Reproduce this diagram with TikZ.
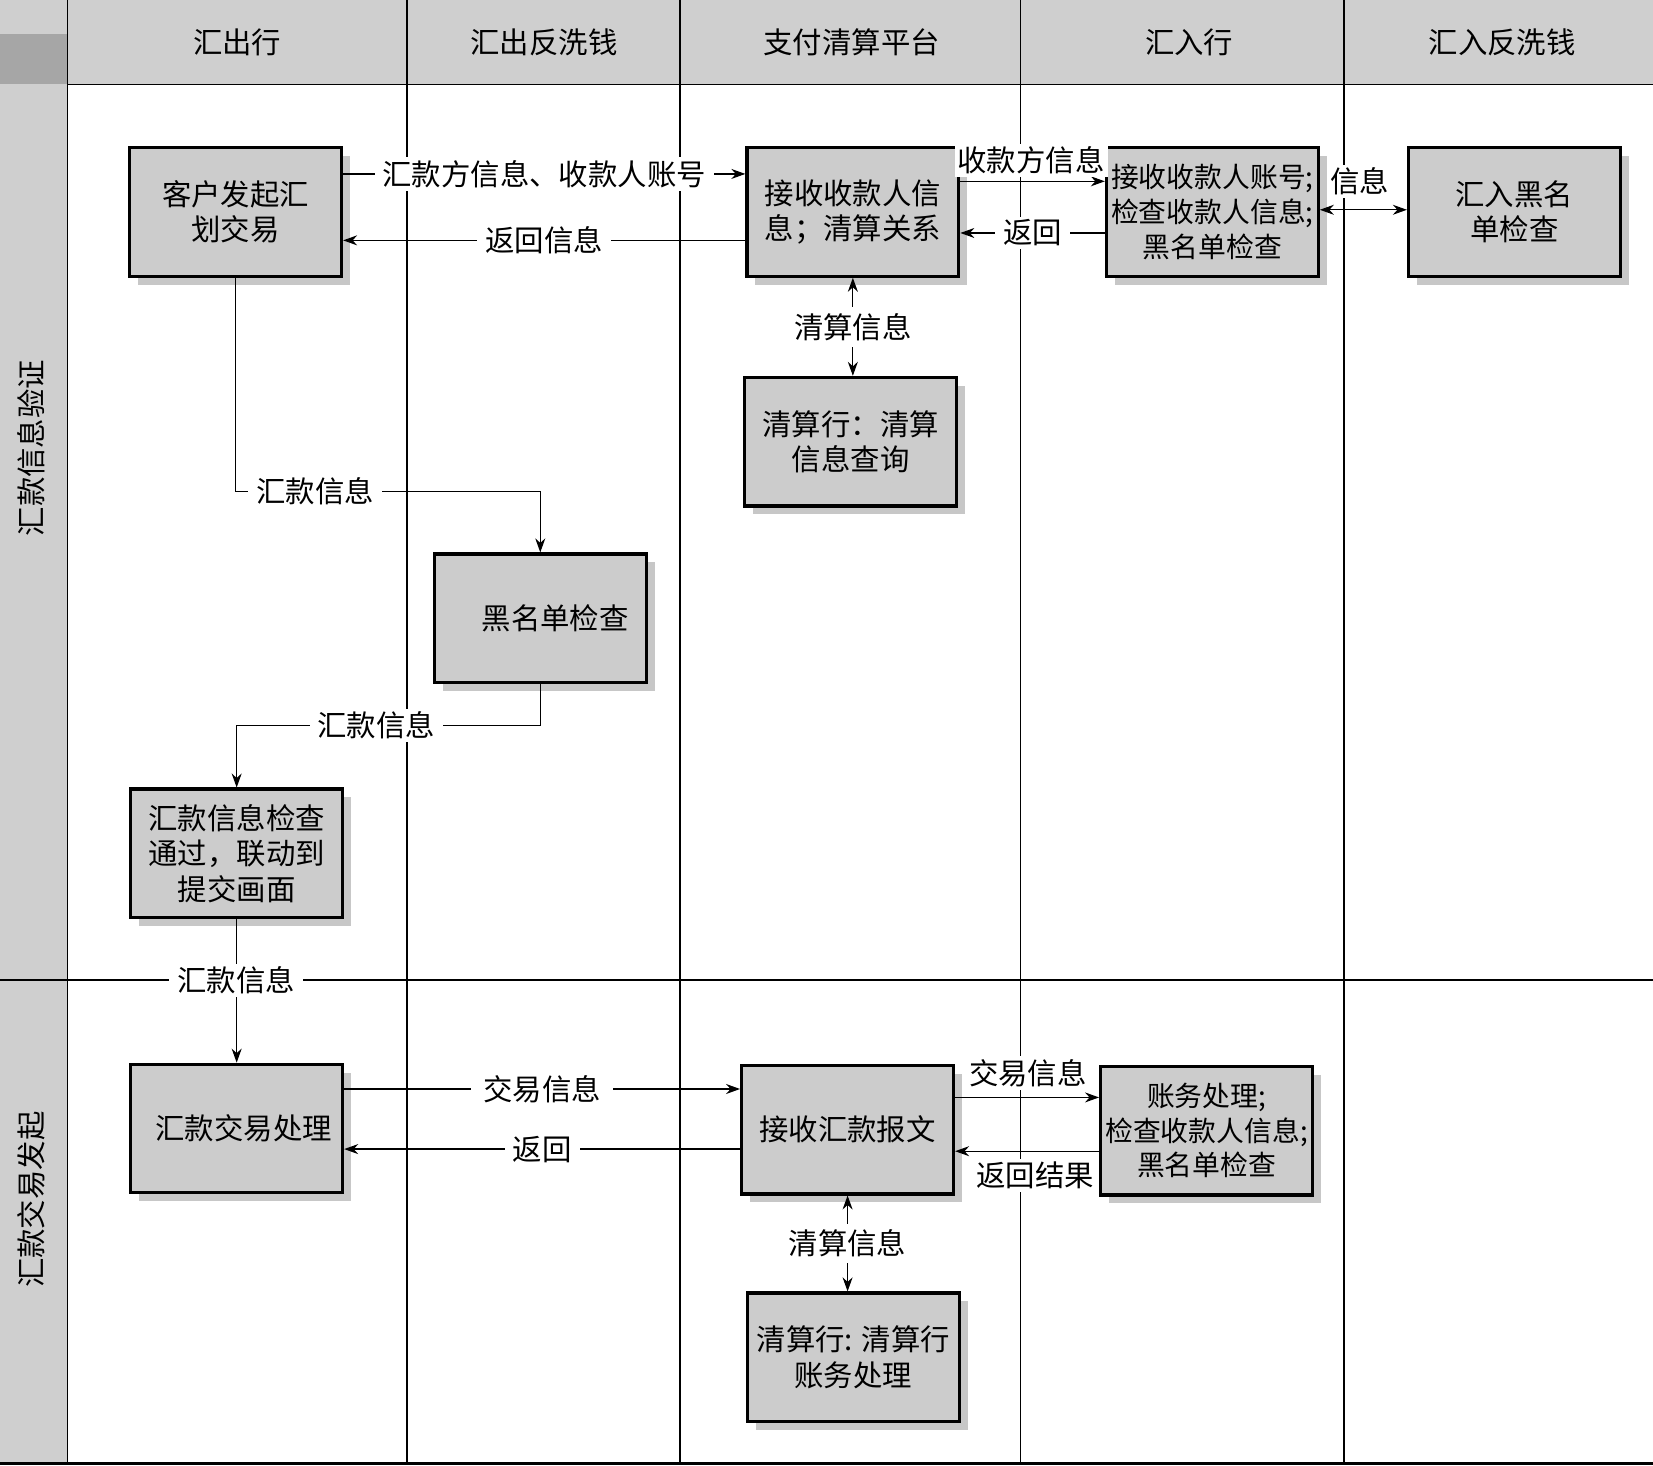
\documentclass[tikz,border=0pt]{standalone}
\usepackage{fontspec}
\setmainfont{Noto Sans CJK SC}
\usetikzlibrary{arrows.meta,shadows}
\definecolor{hdr}{gray}{0.81}
\definecolor{corner}{gray}{0.65}
\definecolor{boxg}{gray}{0.80}
\definecolor{shd}{gray}{0.78}
\begin{document}
\begin{tikzpicture}[x=0.527pt,y=-0.527pt,
  box/.style={draw=black, line width=1.6pt, fill=boxg,
    minimum width=105.9pt, minimum height=64.3pt, align=center, inner sep=1pt,
    font=\fontsize{14.7}{17.8}\selectfont,
    general shadow={fill=shd, shadow xshift=4.2pt, shadow yshift=-4.2pt}},
  smallbox/.style={box, font=\fontsize{13.9}{17.4}\selectfont},
  hd/.style={inner sep=0pt, font=\fontsize{14.7}{17}\selectfont},
  lbl/.style={fill=white, inner xsep=4pt, inner ysep=1.5pt, font=\fontsize{14.7}{17}\selectfont},
  lbltight/.style={lbl, inner xsep=1.5pt},
  lane/.style={line width=0.7pt},
  con/.style={line width=0.6pt},
  arr/.style={-{Stealth[length=7pt,width=5pt]}},
  darr/.style={{Stealth[length=7pt,width=5pt]}-{Stealth[length=7pt,width=5pt]}}]
\useasboundingbox (0,0) rectangle (1568,1390);
% backgrounds
\fill[hdr] (0,0) rectangle (1568,80);
\fill[corner] (0,32) rectangle (64,80);
\fill[hdr] (0,80) rectangle (64,1388);
% lane lines
\draw[lane] (64,80) -- (1568,80);
\draw[lane] (64,0) -- (64,1388);
\draw[lane] (386,0) -- (386,1388);
\draw[lane] (645,0) -- (645,1388);
\draw[lane] (968,0) -- (968,1388);
\draw[lane] (1275,0) -- (1275,1388);
\draw[line width=1pt] (0,930) -- (1568,930);
\draw[line width=1.5pt] (0,1388) -- (1568,1388);
% headers
\node[hd] (h1) at (225,40) {汇出行};
\node[hd] (h2) at (516,40) {汇出反洗钱};
\node[hd] (h3) at (808,40) {支付清算平台};
\node[hd] (h4) at (1128,40) {汇入行};
\node[hd] (h5) at (1425,40) {汇入反洗钱};
\node[hd, rotate=90] (l1) at (30,425) {汇款信息验证};
\node[hd, rotate=90] (l2) at (30,1138) {汇款交易发起};
% boxes
\node[box] (b1) at (223.5,201) {客户发起汇\\划交易};
\node[box] (b2) at (809,201) {接收收款人信\\息；清算关系};
\node[smallbox] (b3) at (1150,201) {接收收款人账号;\\检查收款人信息;\\黑名单检查};
\node[box] (b4) at (1436.5,201) {汇入黑名\\单检查};
\node[box] (b5) at (807,419) {清算行：清算\\信息查询};
\node[box] (b6) at (512.5,586.5) {\hspace*{15pt}黑名单检查};
\node[box] (b7) at (224.5,809.5) {汇款信息检查\\通过，联动到\\提交画面};
\node[box] (b8) at (224.5,1070.5) {\hspace*{7pt}汇款交易处理};
\node[box] (b9) at (804,1071.5) {接收汇款报文};
\node[smallbox] (b10) at (1144.5,1072.5) {账务处理;\\检查收款人信息;\\黑名单检查};
\node[box] (b11) at (809.5,1287.5) {清算行: 清算行\\账务处理};
% helper levels
\coordinate (yA) at (0,165);
\coordinate (yB) at (0,228);
\coordinate (yC) at (0,172);
\coordinate (yD) at (0,221);
\coordinate (yE) at (0,199);
\coordinate (yF) at (0,466);
\coordinate (yG) at (0,688);
\coordinate (yH) at (0,1033);
\coordinate (yI) at (0,1090);
\coordinate (yJ) at (0,1041);
\coordinate (yK) at (0,1092);
% connectors, top lane
\draw[con,arr] (b1.east |- yA) -- node[lbl] {汇款方信息、收款人账号} (b2.west |- yA);
\draw[con,arr] (b2.west |- yB) -- node[lbl] {返回信息} (b1.east |- yB);
\draw[con,arr] (b2.east |- yC) -- (b3.west |- yC);
\node[lbltight] (t1) at (978,152) {收款方信息};
\draw[con,arr] (b3.west |- yD) -- node[lbl] {返回} (b2.east |- yD);
\draw[con,darr] (b3.east |- yE) -- (b4.west |- yE);
\node[lbltight] (t2) at (1290,172) {信息};
\draw[con,darr] (b2.south) -- node[lbltight, inner ysep=3pt] {清算信息} (b2.south |- b5.north);
\draw[con,arr] (b1.south) -- (b1.south |- yF) -- (b6.north |- yF) -- (b6.north);
\node[lbl] (t3) at (299,466) {汇款信息};
\draw[con,arr] (b6.south) -- (b6.south |- yG) -- (b7.north |- yG) -- (b7.north);
\node[lbl] (t4) at (357,688) {汇款信息};
\draw[con,arr] (b7.south) -- (b8.north);
\node[lbl] (t5) at (224,930) {汇款信息};
% connectors, bottom lane
\draw[con,arr] (b8.east |- yH) -- node[lbl, inner xsep=6pt] {交易信息} (b9.west |- yH);
\draw[con,arr] (b9.west |- yI) -- node[lbl] {返回} (b8.east |- yI);
\draw[con,arr] (b9.east |- yJ) -- (b10.west |- yJ);
\node[lbltight] (t6) at (975,1018) {交易信息};
\draw[con,arr] (b10.west |- yK) -- (b9.east |- yK);
\node[lbltight] (t7) at (982,1115) {返回结果};
\draw[con,darr] (b9.south) -- node[lbltight, inner ysep=3pt] {清算信息} (b9.south |- b11.north);
\end{tikzpicture}
\end{document}
